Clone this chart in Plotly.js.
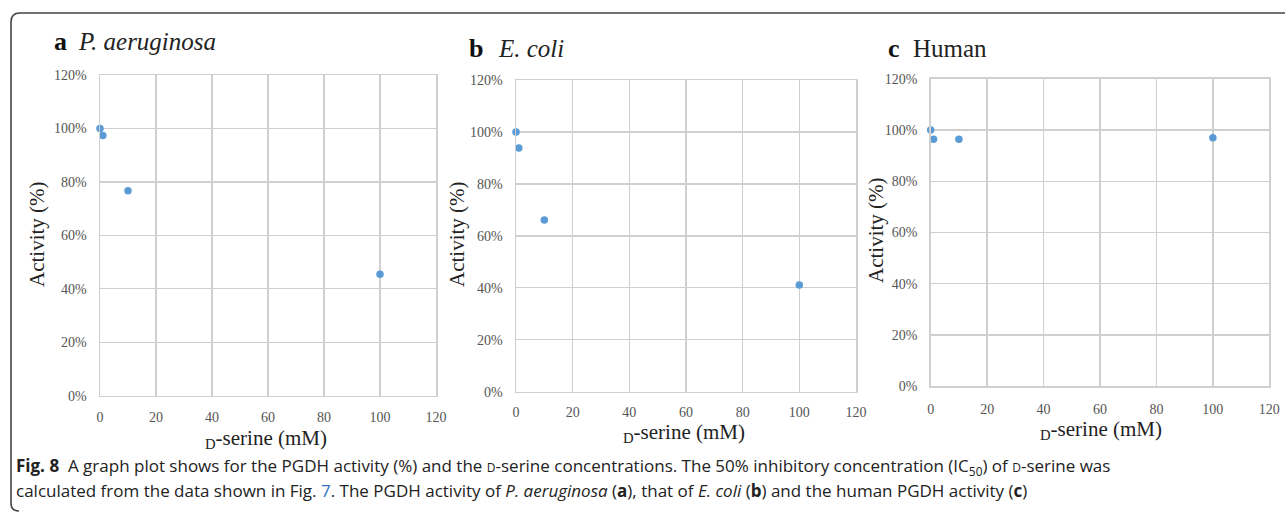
<!DOCTYPE html>
<html>
<head>
<meta charset="utf-8">
<script src="https://cdn.plot.ly/plotly-3.0.1.min.js"></script>
<style>html,body{margin:0;padding:0;background:#fff;}#chart{width:1285px;height:512px;}</style>
</head>
<body>
<div id="chart"></div>
<script>
// ---- data ----
const concentration = [0, 1, 10, 100];            // D-serine (mM)
const activityAeruginosa = [100, 97.4, 76.7, 45.4]; // %
const activityEcoli = [100, 93.8, 66.1, 41.1];      // %
const activityHuman = [100, 96.4, 96.4, 97.0];      // %
const panelLetters = ['a', 'b', 'c'];
const panelNames = ['<i>P. aeruginosa</i>', '<i>E. coli</i>', 'Human'];
const xTicks = [0, 20, 40, 60, 80, 100, 120];
const yTicks = [0, 20, 40, 60, 80, 100, 120];

const W = 1285, H = 512;
const px = x => x / W;
const py = y => 1 - y / H;

const serif = 'Liberation Serif';
const markerColor = '#5b9bd5';
const gridColor = '#cfcfcf';

// plot-area boxes in pixels [left, right, top, bottom]
const boxes = [
  [100, 436, 75, 395.7],
  [516, 856, 80, 391.7],
  [930.7, 1269.3, 78.7, 386.3]
];
const series = [activityAeruginosa, activityEcoli, activityHuman];

const traces = series.map((s, i) => ({
  x: concentration, y: s, type: 'scatter', mode: 'markers', cliponaxis: false,
  xaxis: i === 0 ? 'x' : 'x' + (i + 1), yaxis: i === 0 ? 'y' : 'y' + (i + 1),
  marker: {color: markerColor, size: 7.5}, showlegend: false, hoverinfo: 'x+y'
}));

const layout = {
  width: W, height: H, margin: {l: 0, r: 0, t: 0, b: 0},
  paper_bgcolor: '#fff', plot_bgcolor: '#fff', showlegend: false,
  annotations: [], shapes: []
};

const xStand = [8, 7, 9];
boxes.forEach((b, i) => {
  const sx = i === 0 ? '' : String(i + 1);
  layout['xaxis' + sx] = {
    domain: [px(b[0]), px(b[1])], range: [0, 120], anchor: 'y' + sx,
    tickvals: xTicks, ticktext: xTicks.map(String),
    showgrid: true, gridcolor: gridColor, gridwidth: 1.3,
    showline: true, linecolor: gridColor, linewidth: 1.5, mirror: true,
    zeroline: false, ticks: '', ticklabelstandoff: xStand[i],
    tickfont: {family: serif, size: 14, color: '#555'}
  };
  layout['yaxis' + sx] = {
    domain: [py(b[3]), py(b[2])], range: [0, 120], anchor: 'x' + sx,
    tickvals: yTicks, ticktext: yTicks.map(v => v + '%'),
    showgrid: true, gridcolor: gridColor, gridwidth: 1.3,
    showline: true, linecolor: gridColor, linewidth: 1.5, mirror: true,
    zeroline: false, ticks: '', ticklabelstandoff: 9,
    tickfont: {family: serif, size: 14, color: '#555'}
  };
});

// panel titles
const letterPos = [[52, 41], [467, 48], [886, 48]];
const namePos = [[76, 41], [496, 48], [911, 48]];
panelLetters.forEach((l, i) => {
  layout.annotations.push({
    xref: 'paper', yref: 'paper', x: px(letterPos[i][0]), y: py(letterPos[i][1]),
    xanchor: 'left', yanchor: 'middle', showarrow: false,
    text: '<b>' + l + '</b>', font: {family: serif, size: 26, color: '#111'}
  });
  layout.annotations.push({
    xref: 'paper', yref: 'paper', x: px(namePos[i][0]), y: py(namePos[i][1]),
    xanchor: 'left', yanchor: 'middle', showarrow: false,
    text: panelNames[i], font: {family: serif, size: 25, color: '#222'}
  });
});

// axis titles
const yTitlePos = [[37, 234], [457, 234], [876, 230]];
const xTitlePos = [[266, 439], [684, 433], [1101, 430]];
for (let i = 0; i < 3; i++) {
  layout.annotations.push({
    xref: 'paper', yref: 'paper', x: px(yTitlePos[i][0]), y: py(yTitlePos[i][1]),
    xanchor: 'center', yanchor: 'middle', showarrow: false, textangle: -90,
    text: 'Activity (%)', font: {family: serif, size: 21, color: '#222'}
  });
  layout.annotations.push({
    xref: 'paper', yref: 'paper', x: px(xTitlePos[i][0]), y: py(xTitlePos[i][1]),
    xanchor: 'center', yanchor: 'middle', showarrow: false,
    text: '<sub>D</sub>-serine (mM)', font: {family: serif, size: 21, color: '#222'}
  });
}

// caption
const sc = '<span style="font-size:12px">D</span>';
const cap1 = '<b>Fig. 8</b>  A graph plot shows for the PGDH activity (%) and the ' + sc +
  '-serine concentrations. The 50% inhibitory concentration (IC<sub>50</sub>) of ' + sc + '-serine was';
const cap2 = 'calculated from the data shown in Fig. <span style="color:#2f6fc4">7</span>. The PGDH activity of <i>P. aeruginosa</i> (<b>a</b>), that of <i>E. coli</i> (<b>b</b>) and the human PGDH activity (<b>c</b>)';
[[cap1, 466], [cap2, 490]].forEach(c => {
  layout.annotations.push({
    xref: 'paper', yref: 'paper', x: px(14), y: py(c[1]),
    xanchor: 'left', yanchor: 'middle', showarrow: false, align: 'left',
    text: c[0], font: {family: 'Open Sans', size: 17, color: '#222'}
  });
});

// rounded frame (top and left edges)
const r = 9;
const frame = 'M ' + px(W) + ',' + py(13) +
  ' L ' + px(11 + r) + ',' + py(13) +
  ' Q ' + px(11) + ',' + py(13) + ' ' + px(11) + ',' + py(13 + r) +
  ' L ' + px(11) + ',' + py(503) +
  ' Q ' + px(11) + ',' + py(511) + ' ' + px(19) + ',' + py(511);
layout.shapes.push({type: 'path', xref: 'paper', yref: 'paper', path: frame,
  line: {color: '#444', width: 1.6}});

Plotly.newPlot('chart', traces, layout, {staticPlot: true, displayModeBar: false});
</script>
</body>
</html>
